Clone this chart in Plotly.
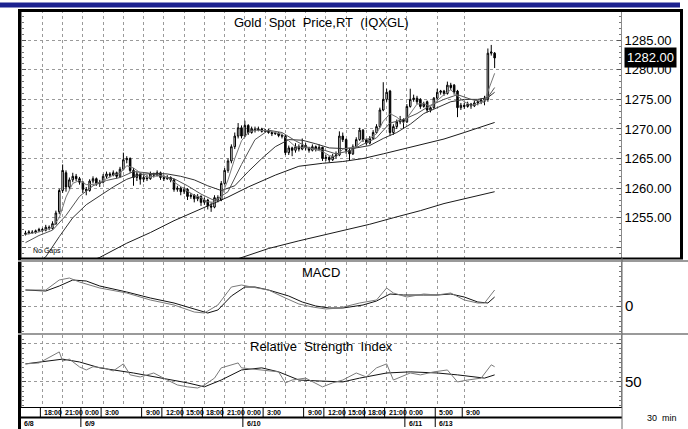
import plotly.graph_objects as go

# ---------------- data ----------------
bar_open = [1252.2,1252.4,1252.6,1252.5,1252.8,1253.0,1252.9,1253.4,1253.2,1254.0,
 1256.0,1259.6,1262.6,1260.2,1261.4,1262.0,1261.6,1261.0,1259.8,1259.6,
 1261.2,1261.6,1260.8,1261.0,1262.0,1262.4,1262.2,1262.6,1262.0,1263.2,
 1264.8,1265.0,1263.0,1261.8,1262.4,1261.5,1261.8,1261.6,1262.4,1262.2,
 1262.6,1261.8,1261.6,1261.8,1261.4,1259.8,1260.0,1259.4,1259.8,1258.6,
 1258.8,1258.2,1258.6,1257.6,1258.0,1257.0,1256.8,1258.4,1258.0,1260.8,
 1263.0,1264.6,1267.0,1268.8,1270.2,1268.8,1270.6,1269.4,1270.0,1269.8,
 1270.0,1269.6,1269.8,1269.4,1269.2,1269.3,1268.9,1268.8,1266.0,1266.8,
 1266.4,1267.0,1266.6,1267.2,1266.8,1266.4,1267.0,1266.6,1266.9,1265.0,
 1265.2,1264.8,1265.4,1265.6,1268.8,1268.2,1266.4,1265.8,1267.0,1268.2,
 1269.8,1268.2,1267.6,1268.4,1269.4,1270.4,1273.2,1275.0,1276.4,1269.4,
 1270.4,1271.2,1271.6,1271.2,1273.8,1275.0,1275.2,1275.0,1273.8,1274.6,
 1273.2,1273.6,1275.2,1276.2,1276.4,1276.0,1277.4,1277.4,1276.4,1273.6,
 1274.0,1273.8,1274.2,1273.9,1274.4,1274.6,1274.9,1275.0,1282.8,1282.8]
bar_high = [1252.8,1252.9,1252.9,1253.0,1253.3,1253.3,1253.8,1253.7,1254.4,1256.2,
 1259.9,1264.0,1263.0,1261.8,1262.6,1262.4,1261.9,1261.2,1260.2,1261.5,
 1262.0,1261.8,1261.4,1262.4,1262.8,1262.7,1263.0,1262.8,1263.6,1266.0,
 1265.4,1265.2,1263.4,1262.8,1262.6,1262.2,1262.2,1262.8,1262.6,1263.0,
 1262.8,1262.2,1262.2,1262.0,1261.6,1260.4,1260.2,1260.2,1260.0,1259.2,
 1259.0,1259.0,1258.8,1258.4,1258.2,1257.6,1258.8,1258.8,1261.2,1263.4,
 1265.0,1267.4,1269.4,1271.0,1270.6,1271.4,1270.8,1270.4,1270.4,1270.4,
 1270.2,1270.0,1270.0,1269.6,1269.6,1269.5,1269.2,1269.0,1267.2,1267.0,
 1267.6,1267.4,1268.4,1267.6,1267.0,1267.4,1267.2,1267.4,1267.0,1265.6,
 1265.4,1265.8,1266.2,1269.6,1269.4,1268.4,1266.8,1267.4,1268.6,1270.2,
 1270.0,1268.4,1268.8,1269.8,1270.8,1273.6,1277.9,1276.8,1276.6,1270.8,
 1271.6,1272.2,1271.8,1274.2,1276.8,1275.8,1275.6,1275.2,1274.6,1274.8,
 1273.8,1275.4,1276.8,1276.6,1276.6,1278.0,1277.8,1277.6,1276.6,1274.4,
 1274.4,1274.6,1274.4,1274.8,1274.8,1275.2,1275.6,1283.6,1284.2,1283.0]
bar_low = [1252.0,1252.2,1252.3,1252.3,1252.6,1252.6,1252.7,1252.9,1253.0,1253.8,
 1255.6,1259.2,1259.4,1259.8,1261.0,1261.2,1260.6,1259.2,1258.8,1259.4,
 1260.8,1260.4,1260.2,1260.8,1261.6,1261.8,1262.0,1261.6,1261.8,1263.0,
 1264.2,1262.6,1260.4,1261.2,1260.6,1261.0,1261.2,1261.4,1261.8,1262.0,
 1261.4,1261.2,1261.4,1261.0,1259.4,1259.4,1258.8,1259.0,1258.0,1258.2,
 1257.6,1257.8,1257.0,1257.2,1256.4,1256.0,1256.6,1257.6,1257.8,1260.6,
 1262.6,1264.2,1266.6,1268.4,1268.4,1268.6,1269.0,1269.2,1269.4,1269.6,
 1269.4,1269.4,1269.2,1268.8,1269.0,1268.6,1268.4,1265.6,1265.6,1265.4,
 1266.0,1266.2,1266.4,1266.4,1266.0,1266.2,1266.2,1266.4,1264.6,1264.6,
 1264.4,1264.6,1265.0,1265.4,1267.8,1265.8,1264.6,1265.6,1266.8,1268.0,
 1267.8,1267.2,1267.4,1268.2,1269.2,1270.2,1273.0,1274.6,1268.8,1269.0,
 1270.0,1270.8,1270.0,1271.0,1273.6,1274.6,1274.2,1273.4,1273.6,1272.8,
 1272.8,1273.4,1275.0,1275.8,1275.6,1275.8,1276.6,1275.8,1272.0,1273.2,
 1273.4,1273.6,1273.4,1273.7,1274.0,1274.2,1274.0,1274.6,1282.4,1280.3]
bar_close = [1252.4,1252.6,1252.5,1252.8,1253.0,1252.9,1253.4,1253.2,1254.0,1255.8,
 1259.6,1263.0,1260.2,1261.4,1262.0,1261.6,1261.0,1259.8,1259.6,1261.2,
 1261.6,1260.8,1261.0,1262.0,1262.4,1262.2,1262.6,1262.0,1263.2,1264.8,
 1265.0,1263.0,1261.8,1262.4,1261.5,1261.8,1261.6,1262.4,1262.2,1262.6,
 1261.8,1261.6,1261.8,1261.4,1259.8,1260.0,1259.4,1259.8,1258.6,1258.8,
 1258.2,1258.6,1257.6,1258.0,1257.0,1256.8,1258.4,1258.0,1260.8,1263.0,
 1264.6,1267.0,1268.8,1270.2,1268.8,1270.6,1269.4,1270.0,1269.8,1270.0,
 1269.6,1269.8,1269.4,1269.2,1269.3,1268.9,1268.8,1266.0,1266.8,1266.4,
 1267.0,1266.6,1267.2,1266.8,1266.4,1267.0,1266.6,1266.9,1265.0,1265.2,
 1264.8,1265.4,1265.6,1268.8,1268.2,1266.4,1265.8,1267.0,1268.2,1269.8,
 1268.2,1267.6,1268.4,1269.4,1270.4,1273.2,1275.0,1276.2,1269.4,1270.4,
 1271.2,1271.6,1271.2,1273.8,1275.0,1275.2,1274.6,1273.8,1274.2,1273.2,
 1273.6,1275.2,1276.2,1276.4,1276.0,1277.4,1277.0,1276.2,1273.6,1274.0,
 1273.8,1274.2,1273.9,1274.4,1274.6,1274.9,1275.2,1282.8,1283.0,1282.0]
bar_index = list(range(len(bar_close)))

ma_fast_k = [0,4,8,10,12,14,16,18,20,22,24,26,28,30,32,34,36,38,40,42,44,46,48,50,52,54,56,58,60,62,
             64,66,68,72,76,78,80,84,88,90,92,94,96,98,100,102,104,106,108,110,112,114,116,118,120,122,
             124,126,128,130,132,134,136,138,139]
ma_fast = [1252.2,1252.6,1253.4,1255.0,1258.5,1260.8,1261.3,1260.6,1260.6,1261.0,
           1261.6,1262.2,1262.5,1263.8,1263.4,1262.6,1261.8,1262.0,1262.1,1261.8,
           1261.0,1260.2,1259.5,1258.8,1258.4,1257.7,1257.6,1258.6,1261.4,1265.0,
           1268.0,1269.4,1269.8,1269.7,1269.1,1268.0,1267.0,1266.8,1266.2,1265.5,
           1265.3,1266.6,1266.8,1267.0,1268.2,1268.4,1269.2,1271.3,1272.6,1272.0,
           1271.0,1272.6,1274.2,1274.3,1273.8,1274.8,1275.8,1276.6,1275.6,1274.6,
           1274.0,1274.2,1274.8,1278.0,1279.4]
ma_mid_k = [0,4,8,12,16,20,24,28,32,36,40,44,48,52,56,60,64,68,72,76,80,84,88,92,96,100,104,108,112,116,
            120,124,128,132,136,139]
ma_mid = [1250.8,1252.0,1252.9,1255.4,1258.6,1260.4,1261.3,1261.8,1262.8,1262.6,
          1262.1,1261.6,1260.4,1259.0,1257.9,1259.4,1264.0,1268.2,1269.8,1269.4,
          1268.0,1266.8,1266.5,1265.8,1266.3,1267.4,1268.5,1271.0,1271.6,1272.6,
          1274.0,1275.0,1275.8,1275.0,1274.5,1277.0]
ma_20_k = [4,6,10,14,18,22,26,30,34,38,42,46,50,54,58,62,66,70,74,78,82,86,90,94,98,102,106,110,114,118,
           122,126,130,134,137,139]
ma_20 = [1247.6,1248.4,1251.8,1255.0,1257.2,1258.7,1260.2,1261.5,1262.3,1262.5,
         1262.4,1262.0,1261.4,1260.4,1259.6,1260.4,1262.8,1265.0,1267.0,1268.2,
         1268.1,1267.5,1266.8,1266.7,1266.8,1267.2,1268.4,1269.4,1270.8,1272.6,
         1273.6,1274.6,1275.0,1275.0,1275.3,1276.2]
ma_slow_k = [18,22,30,37,44,52,60,66,74,81,88,94,100,106,112,118,124,130,135,139]
ma_slow = [1247.4,1248.3,1250.7,1252.5,1254.5,1256.5,1258.5,1260.2,1262.2,1263.7,
           1264.2,1264.5,1265.0,1265.8,1266.6,1267.4,1268.3,1269.4,1270.4,1271.1]
ma_200_k = [60,64,72,81,94,102,109,117,124,132,139]
ma_200 = [1247.5,1248.3,1249.8,1251.1,1252.8,1253.9,1255.0,1256.2,1257.4,1258.5,1259.4]

macd_k = [0,6,10,13,16,22,30,37,44,50,53,57,61,64,67,72,77,81,85,89,93,99,104,107,109,113,118,122,126,130,
          134,136,139]
macd = [0.8,0.8,1.3,1.4,1.2,0.9,0.65,0.3,0.05,-0.3,-0.35,0.05,0.95,1.05,0.95,0.8,0.4,0.1,-0.05,-0.15,
        -0.1,0.15,0.3,0.9,0.65,0.45,0.6,0.55,0.65,0.3,0.15,0.15,0.8]
signal_k = [0,6,10,14,18,22,30,37,44,50,54,57,61,65,68,72,78,82,86,90,94,100,104,108,112,118,122,126,130,
            134,137,139]
signal = [0.8,0.75,1.0,1.3,1.25,1.0,0.7,0.4,0.15,-0.15,-0.35,-0.2,0.5,0.95,0.95,0.8,0.5,0.2,0.0,-0.1,
          -0.1,0.05,0.25,0.6,0.55,0.55,0.55,0.6,0.45,0.2,0.15,0.45]

rsi_k = [0,4,10,11,13,16,18,20,23,26,29,31,34,38,42,45,48,51,53,56,58,61,63,64,70,75,77,79,83,88,
         91,94,98,101,104,107,109,111,114,117,121,125,128,131,135,138,139]
rsi = [59.5,60,65.8,61,62,57.9,56.3,58,57.4,55.8,59.5,53.7,52.6,54.7,51,48.4,47.4,46.8,48.4,52,
       57.4,59,60,57.4,56.3,55.3,49.5,51,52,47.4,49.5,51,54.7,52.6,57.4,59.5,51,52.6,54.7,53.7,
       55.3,56.3,50,51,52,59,58]
rsi_avg_k = [0,11,16,22,32,40,48,53,58,64,70,75,81,87,94,99,107,114,122,128,136,139]
rsi_avg = [59.5,62,60.5,57.4,54.7,52,49.5,47.4,51,56.3,57.4,55.3,51,50.5,50,52,54.7,55.3,54.7,53.7,52,53.7]

grid_k = [5,11,17,23,29,35,41,47,53,59,65,71,77,83,89,95,101,107,113,122,130]
time_k = [5,11,17,23,35,41,47,53,59,65,71,83,89,95,101,107,113,122,130]
time_labels = ["18:00","21:00","0:00","3:00","9:00","12:00","15:00","18:00","21:00","0:00",
               "3:00","9:00","12:00","15:00","18:00","21:00","0:00","5:00","9:00"]
date_k = [-1,17,65,113,122]
date_labels = ["6/8","6/9","6/10","6/11","6/13"]
price_ticks = [1250,1255,1260,1265,1270,1275,1280,1285]
price_ticktext = ["","1255.00","1260.00","1265.00","1270.00","1275.00","1280.00","1285.00"]
last_price = 1282.00

# ---------------- layout helpers ----------------
W, H = 688, 429
def px(x): return x / W
def py(y): return 1 - y / H

FONT = "Liberation Sans, Arial, sans-serif"
GRID = "#9a9a9a"
XR = [-1.04, 176.44]

fig = go.Figure()
fig.add_trace(go.Candlestick(
    x=bar_index, open=bar_open, high=bar_high, low=bar_low, close=bar_close,
    increasing=dict(line=dict(color="black", width=1), fillcolor="white"),
    decreasing=dict(line=dict(color="black", width=1), fillcolor="black"),
    whiskerwidth=0, xaxis="x", yaxis="y", showlegend=False))
for kk, vv, col in [(ma_200_k, ma_200, "#1a1a1a"), (ma_slow_k, ma_slow, "#1a1a1a"),
                    (ma_20_k, ma_20, "#333333"), (ma_mid_k, ma_mid, "#555555"),
                    (ma_fast_k, ma_fast, "#777777")]:
    fig.add_trace(go.Scatter(x=kk, y=vv, mode="lines", line=dict(color=col, width=1),
                             xaxis="x", yaxis="y", showlegend=False, hoverinfo="skip"))
fig.add_trace(go.Scatter(x=signal_k, y=signal, mode="lines", line=dict(color="#111111", width=1),
                         xaxis="x2", yaxis="y2", showlegend=False))
fig.add_trace(go.Scatter(x=macd_k, y=macd, mode="lines", line=dict(color="#7a7a7a", width=1),
                         xaxis="x2", yaxis="y2", showlegend=False))
fig.add_trace(go.Scatter(x=rsi_avg_k, y=rsi_avg, mode="lines", line=dict(color="#111111", width=1),
                         xaxis="x3", yaxis="y3", showlegend=False))
fig.add_trace(go.Scatter(x=rsi_k, y=rsi, mode="lines", line=dict(color="#7a7a7a", width=1),
                         xaxis="x3", yaxis="y3", showlegend=False))

xdom = [px(22), px(621)]
def xax(anchor, **kw):
    d = dict(domain=xdom, range=XR, anchor=anchor, tickvals=grid_k, showticklabels=False,
             showgrid=True, gridcolor=GRID, griddash="dot", gridwidth=1, zeroline=False,
             showline=False, ticks="", fixedrange=True)
    d.update(kw)
    return d
def yax(dom, rng, tv, tt, minor_dt, fs=13, **kw):
    d = dict(domain=dom, range=rng, side="right", tickvals=tv, ticktext=tt,
             tickfont=dict(family=FONT, size=fs, color="black"),
             showgrid=True, gridcolor=GRID, griddash="dot", gridwidth=1, zeroline=False,
             ticks="inside", ticklen=4, tickcolor="#555555", showline=True, linecolor="#8a8a8a",
             mirror="ticks", minor=dict(dtick=minor_dt, ticks="inside", ticklen=2, tickcolor="#777777",
                                        showgrid=False), fixedrange=True)
    d.update(kw)
    return d

fig.update_layout(
    width=W, height=H, margin=dict(l=0, r=0, t=0, b=0),
    paper_bgcolor="white", plot_bgcolor="white", font=dict(family=FONT, color="black"),
    showlegend=False, boxgap=0.35,
    xaxis=xax("y", rangeslider=dict(visible=False)),
    xaxis2=xax("y2", matches="x"),
    xaxis3=xax("y3", matches="x"),
    yaxis=yax([py(258), py(10)], [1248.2, 1290.1], price_ticks, price_ticktext, 1),
    yaxis2=yax([py(333), py(262)], [-1.35, 2.2], [0], ["0"], 0.25, fs=15),
    yaxis3=yax([py(407), py(335)], [36.8, 74.7], [50, 70], ["50", ""], 2.5, fs=15),
)

shapes = []
def pline(x0, y0, x1, y1, color="black", w=1):
    shapes.append(dict(type="line", xref="paper", yref="paper", x0=px(x0), y0=py(y0),
                       x1=px(x1), y1=py(y1), line=dict(color=color, width=w)))
# title bar
shapes.append(dict(type="rect", xref="paper", yref="paper", x0=px(0), x1=px(680),
                   y0=py(7.5), y1=py(2.5), fillcolor="#1c2290", line=dict(width=0)))
# frame
pline(19.5, 9, 19.5, 429, "black", 3)
pline(18, 10.5, 683, 10.5, "black", 3)
pline(681.5, 9, 681.5, 259, "black", 3)
pline(18, 258.5, 683, 258.5, "black", 2)
pline(18, 261, 688, 261, "#9a9a9a", 2)
pline(18, 334, 688, 334, "#9a9a9a", 2)
pline(18, 407.5, 622, 407.5, "black", 1)
pline(18, 417.5, 622, 417.5, "black", 2)
pline(622, 258, 622, 429, "#6a6a6a", 1)
# label separators
for k in time_k:
    shapes.append(dict(type="line", xref="x", yref="paper", x0=k - 0.6, x1=k - 0.6,
                       y0=py(407), y1=py(417), line=dict(color="black", width=1)))
for k in date_k[1:]:
    shapes.append(dict(type="line", xref="x", yref="paper", x0=k - 0.6, x1=k - 0.6,
                       y0=py(418), y1=py(427), line=dict(color="black", width=1)))
fig.update_layout(shapes=shapes)

ann = []
def ptext(x, y, text, size, anchor="center", **kw):
    d = dict(xref="paper", yref="paper", x=px(x), y=py(y), text=text, showarrow=False,
             xanchor=anchor, yanchor="middle", font=dict(family=FONT, size=size, color="black"))
    d.update(kw)
    ann.append(d)
ptext(321.5, 22, "Gold\u00a0 Spot\u00a0 Price,RT\u00a0 (IQXGL)", 13)
ptext(321, 272, "MACD", 13)
ptext(321, 346, "Relative\u00a0 Strength\u00a0 Index", 13)
ptext(31, 251, "No Gaps", 7, "left")
ptext(645, 418, "30\u00a0 min", 9, "left")
ann.append(dict(xref="paper", yref="y", x=px(623.5), y=last_price, text=f"{last_price:.2f}",
                showarrow=False, xanchor="left", yanchor="middle", bgcolor="black", borderpad=2,
                font=dict(family=FONT, size=13, color="white")))
for k, t in zip(time_k, time_labels):
    ann.append(dict(xref="x", yref="paper", x=k, y=py(412.5), text=f"<b>{t}</b>", showarrow=False,
                    xanchor="left", yanchor="middle", xshift=0,
                    font=dict(family=FONT, size=7, color="black")))
for k, t in zip(date_k, date_labels):
    ann.append(dict(xref="x", yref="paper", x=k, y=py(423), text=f"<b>{t}</b>", showarrow=False,
                    xanchor="left", yanchor="middle", xshift=0,
                    font=dict(family=FONT, size=7, color="black")))
fig.update_layout(annotations=ann)

fig.write_html("out.html", config={"displayModeBar": False},
               post_script="document.body.style.margin='0';document.body.style.overflow='hidden';")
